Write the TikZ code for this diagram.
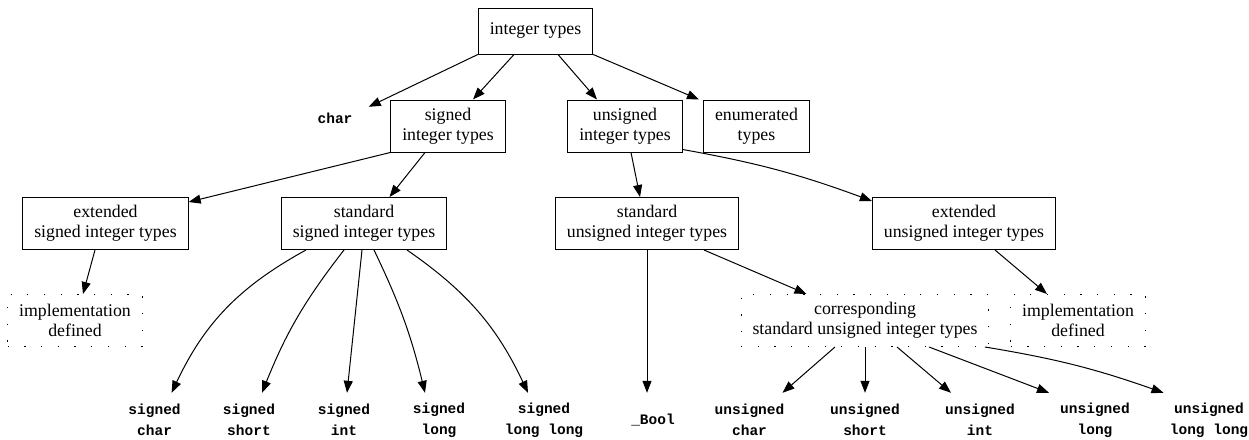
\documentclass[tikz,border=0pt]{standalone}
\usepackage{fontspec}
\setmainfont{Liberation Serif}
\setmonofont{Liberation Mono}
\usetikzlibrary{arrows.meta}

\begin{document}
\begin{tikzpicture}[x=1pt, y=-1pt,
    box/.style={draw, line width=1pt, align=center, inner xsep=11.5pt, inner ysep=2pt, minimum height=52pt, font=\fontsize{17.8}{20}\selectfont},
    dotbox/.style={box, dash pattern=on 1.2pt off 15.5pt},
    code/.style={align=center, inner sep=0pt, minimum height=54pt, font=\fontsize{14.5}{21}\selectfont\ttfamily\bfseries},
    edge/.style={line width=1pt, -{Triangle[length=12pt,width=9pt]}}]
    \useasboundingbox (0,0) rectangle (1249,439);
    \node[box, minimum height=46pt] (intTypes) at (535.5,31) {integer types};
    \node[code, minimum width=67pt, minimum height=22pt] (charNode) at (335,118) {char};
    \node[box] (signedTypes) at (448,126) {signed\\integer types};
    \node[box] (unsignedTypes) at (625,126) {unsigned\\integer types};
    \node[box] (enumTypes) at (756.5,126) {enumerated\\types};
    \node[box] (extSigned) at (105.5,223.5) {extended\\signed integer types};
    \node[box] (stdSigned) at (364,223.5) {standard\\signed integer types};
    \node[box] (stdUnsigned) at (647,223.5) {standard\\unsigned integer types};
    \node[box] (extUnsigned) at (964,223.5) {extended\\unsigned integer types};
    \node[dotbox] (implSigned) at (75,320.5) {implementation\\defined};
    \node[dotbox] (corrUnsigned) at (865,320.5) {corresponding\\standard unsigned integer types};
    \node[dotbox] (implUnsigned) at (1078,320.5) {implementation\\defined};
    \foreach \n/\x/\t in {sChar/154.6/char, sShort/249/short, sInt/344/int, sLong/439/long, sLongLong/544/{long long}}
        \node[code] (\n) at (\x,420) {signed\\\t};
    \node[code] (boolNode) at (653,420) {\_Bool};
    \foreach \n/\x/\t in {uChar/749.5/char, uShort/865/short, uInt/980/int, uLong/1095/long, uLongLong/1209/{long long}}
        \node[code] (\n) at (\x,420) {unsigned\\\t};
    \draw[edge] (intTypes.south west) -- (charNode.north east);
    \draw[edge] ([xshift=-21.5pt]intTypes.south) -- ([xshift=25pt]signedTypes.north);
    \draw[edge] ([xshift=22.5pt]intTypes.south) -- ([xshift=-28pt]unsignedTypes.north);
    \draw[edge] (intTypes.south east) -- ([xshift=-4pt]enumTypes.north west);
    \draw[edge] (signedTypes.south west) -- ([yshift=-5pt]extSigned.north east);
    \draw[edge] ([xshift=-23pt]signedTypes.south) -- ([xshift=25.5pt]stdSigned.north);
    \draw[edge] ([xshift=6pt]unsignedTypes.south) -- ([xshift=-7pt]stdUnsigned.north);
    \draw[edge] ([yshift=3pt]unsignedTypes.south east) to[bend left=5] ([yshift=-4pt]extUnsigned.north west);
    \draw[edge] ([xshift=-10.5pt]extSigned.south) -- ([xshift=8pt]implSigned.north);
    \foreach \n/\a/\b/\bend in {sChar/-58/17/-18, sShort/-20/13/-8, sInt/-2/3/0, sLong/10/-14/6, sLongLong/43/-16/15}
        \draw[edge] ([xshift=\a pt]stdSigned.south) to[bend left=\bend] ([xshift=\b pt]\n.north);
    \draw[edge] (stdUnsigned.south) -- ([xshift=-6pt]boolNode.north);
    \draw[edge] ([xshift=57pt]stdUnsigned.south) -- ([xshift=-58.5pt]corrUnsigned.north);
    \draw[edge] ([xshift=31pt]extUnsigned.south) -- ([xshift=-31pt]implUnsigned.north);
    \foreach \n/\a/\b/\bend in {uChar/-30/33/0, uShort/0/0/0, uInt/32/-29/0, uLong/64/-46/0, uLongLong/120/-45.5/5}
        \draw[edge] ([xshift=\a pt]corrUnsigned.south) to[bend left=\bend] ([xshift=\b pt]\n.north);
\end{tikzpicture}
\end{document}
